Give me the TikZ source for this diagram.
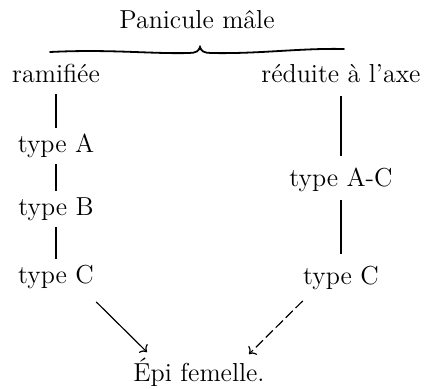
\documentclass[tikz,border=0pt]{standalone}
\usepackage{fontspec}
\usepackage{tikz}
\usetikzlibrary{arrows.meta,calc}
\tikzset{
   every path/.style={>=To},
   lbl/.style={inner sep=0pt, text height=9pt, text depth=2.5pt, font=\fontsize{13}{15}\selectfont},
   brc/.style={line width=0.9pt, line cap=round},
   stem/.style={line width=1.3pt, shorten <=3pt, shorten >=3pt},
   rstem/.style={line width=0.7pt, shorten <=4pt, shorten >=6pt},
   arr/.style={->, line width=0.6pt},
   darr/.style={->, line width=0.6pt, dash pattern=on 5pt off 2pt},
}

\begin{document}
\begin{tikzpicture}[x=0.5pt,y=0.5pt]
  \useasboundingbox (0,0) rectangle (425,388);

  \node [lbl] (pan) at (197,366) {Panicule mâle};
  \node [lbl] (ram) at (56,312) {ramifiée};
  \node [lbl] (red) at (341,312) {réduite à l'axe};
  \node [lbl] (tA) at (56,242) {type A};
  \node [lbl] (tB) at (56,179) {type B};
  \node [lbl] (tCl) at (56,111) {type C};
  \node [lbl] (tAC) at (341,208) {type A-C};
  \node [lbl] (tCr) at (341,110) {type C};
  \node [lbl] (epi) at (199,13) {Épi femelle.};

  % flat brace under the title
  \coordinate (bl) at (50,336);
  \coordinate (tip) at (200,341);
  \coordinate (br) at (344,339);
  \draw [brc] (bl) .. controls (110,339) and (150,334) .. (189,335)
    .. controls (196,335) and (199,337) .. (tip)
    .. controls (201,337) and (204,335) .. (211,335)
    .. controls (260,334) and (300,340) .. (br);

  \draw [stem] (ram) -- (tA);
  \draw [stem] (tA) -- (tB);
  \draw [stem] (tB) -- (tCl);
  \draw [rstem] (red) -- (tAC);
  \draw [rstem] (tAC) -- (tCr);

  \draw [arr] ([shift={(2,-13)}]tCl.south east) -- ([shift={(14,11)}]epi.north west);
  \draw [darr] ([shift={(0,-11)}]tCr.south west) -- ([shift={(-16,9)}]epi.north east);
\end{tikzpicture}
\end{document}
